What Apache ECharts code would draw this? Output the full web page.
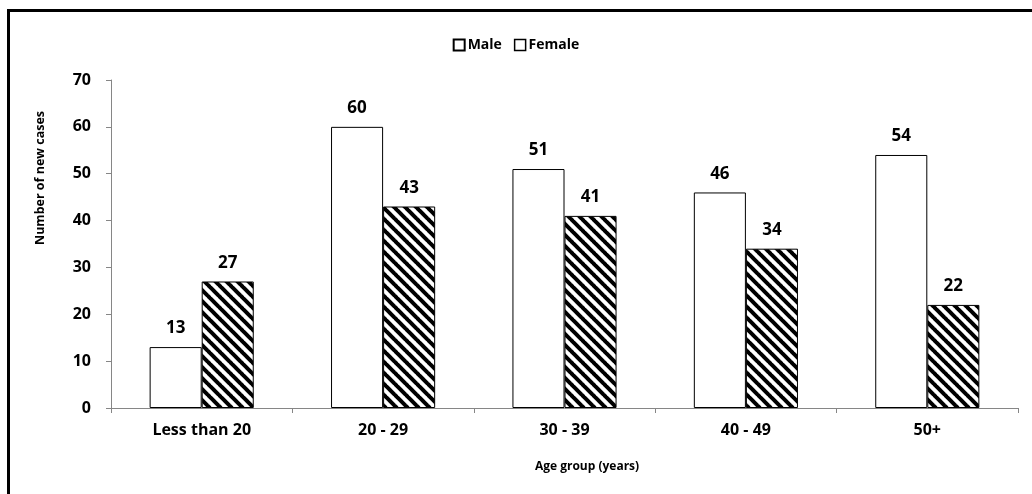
<!DOCTYPE html>
<html>
<head>
<meta charset="utf-8">
<script src="https://cdn.jsdelivr.net/npm/echarts@6/dist/echarts.min.js"></script>
<style>
html,body{margin:0;padding:0;background:#fff;overflow:hidden;}
#frame{position:absolute;left:7px;top:9px;width:1100px;height:600px;border:3px solid #000;box-sizing:border-box;}
#main{position:absolute;left:0;top:0;width:1032px;height:494px;}
</style>
</head>
<body>
<div id="frame"></div>
<div id="main"></div>
<script>
const categories = ['Less than 20', '20 - 29', '30 - 39', '40 - 49', '50+'];
const maleValues = [13, 60, 51, 46, 54];
const femaleValues = [27, 43, 41, 34, 22];
const yTicks = [0, 10, 20, 30, 40, 50, 60, 70];

function makeHatch() {
  const N = 11;
  const c = document.createElement('canvas');
  c.width = N; c.height = N;
  const g = c.getContext('2d');
  g.fillStyle = '#fff';
  g.fillRect(0, 0, N, N);
  g.strokeStyle = '#000';
  g.lineWidth = 4;
  for (let k = -1; k <= 1; k++) {
    g.beginPath();
    g.moveTo(k * N - 1, -1);
    g.lineTo(k * N + N + 1, N + 1);
    g.stroke();
  }
  return c;
}
const hatch = makeHatch();
const FONT = '"Open Sans", "Liberation Sans", sans-serif';

const chart = echarts.init(document.getElementById('main'), null, {renderer: 'canvas'});
chart.setOption({
  animation: false,
  backgroundColor: 'transparent',
  textStyle: {fontFamily: FONT},
  legend: {
    data: [
      {name: 'Male'},
      {name: 'Female', itemStyle: {color: '#fff', borderColor: '#000', borderWidth: 1.5}}
    ],
    top: 33, left: 'center',
    itemWidth: 11, itemHeight: 11, itemGap: 12,
    icon: 'rect',
    textStyle: {fontWeight: 'bold', fontSize: 14, color: '#000', fontFamily: FONT, padding: [0, 0, 0, -2]}
  },
  grid: {left: 111, right: 14, top: 80, bottom: 86, containLabel: false},
  xAxis: {
    type: 'category',
    data: categories,
    axisLine: {lineStyle: {color: '#868686', width: 1}},
    axisTick: {show: true, alignWithLabel: false, length: 5, lineStyle: {color: '#868686'}},
    axisLabel: {fontWeight: 'bold', fontSize: 16, color: '#000', margin: 14, fontFamily: FONT}
  },
  yAxis: {
    type: 'value',
    min: yTicks[0], max: yTicks[yTicks.length - 1], interval: 10,
    axisLine: {show: true, lineStyle: {color: '#868686', width: 1}},
    axisTick: {show: true, length: 5, lineStyle: {color: '#868686'}},
    splitLine: {show: false},
    axisLabel: {fontWeight: 'bold', fontSize: 16, color: '#000', margin: 20, fontFamily: FONT}
  },
  graphic: [
    {type: 'text', x: 40, y: 178, rotation: Math.PI / 2,
     style: {text: 'Number of new cases', fill: '#000', font: 'bold 12.5px ' + FONT, textAlign: 'center', textVerticalAlign: 'middle'}},
    {type: 'text', x: 587, y: 467,
     style: {text: 'Age group (years)', fill: '#000', font: 'bold 12px ' + FONT, textAlign: 'center', textVerticalAlign: 'middle'}}
  ],
  series: [
    {
      name: 'Male', type: 'bar', data: maleValues,
      barWidth: '28.7%', barGap: '0%',
      itemStyle: {color: '#fff', borderColor: '#000', borderWidth: 1},
      label: {show: true, position: 'top', distance: 10, fontWeight: 'bold', fontSize: 17, color: '#000', fontFamily: FONT}
    },
    {
      name: 'Female', type: 'bar', data: femaleValues,
      barWidth: '28.7%',
      itemStyle: {color: {image: hatch, repeat: 'repeat'}, borderColor: '#000', borderWidth: 1},
      label: {show: true, position: 'top', distance: 10, fontWeight: 'bold', fontSize: 17, color: '#000', fontFamily: FONT}
    }
  ]
});
</script>
</body>
</html>
